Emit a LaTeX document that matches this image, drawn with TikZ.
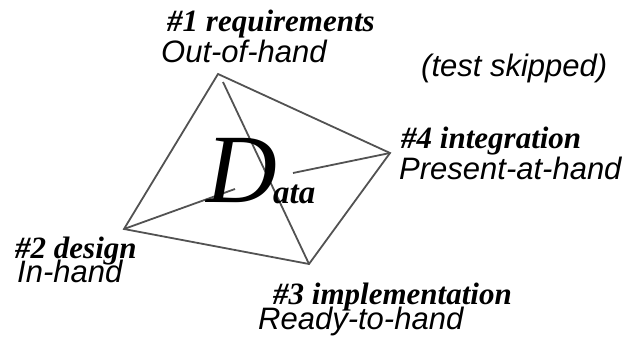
\documentclass[tikz,border=0pt]{standalone}
\usepackage{fontspec}
\setmainfont{Liberation Serif}
\setsansfont{Liberation Sans}
\begin{document}
\begin{tikzpicture}[x=1pt,y=-1pt,
  edge/.style={draw=black!68,line width=1.8pt},
  phase/.style={anchor=base west,inner sep=0pt,font=\fontsize{31}{31}\selectfont\rmfamily\bfseries\itshape},
  mode/.style={anchor=base west,inner sep=0pt,font=\fontsize{31}{31}\selectfont\sffamily\itshape}]
\useasboundingbox (0,0) rectangle (623,339);
\coordinate (T) at (218,74);
\coordinate (Ti) at (223,82);
\coordinate (R) at (390,153);
\coordinate (L) at (124,229);
\coordinate (B) at (309,264);
\coordinate (Li) at (235,189);
\coordinate (Ri) at (293,173);
\draw[edge] (T) -- (R) -- (B) -- (L) -- cycle;
\draw[edge] (Ti) -- (B);
\draw[edge] (L) -- (Li);
\draw[edge] (Ri) -- (R);
\node[anchor=base west,inner sep=0pt,font=\fontsize{98}{98}\selectfont\rmfamily\itshape] (D) at (206,202) {D};
\node[anchor=base west,inner sep=0pt,font=\fontsize{33}{33}\selectfont\rmfamily\bfseries\itshape] (ata) at (273,203) {ata};
\node[phase] (p1) at (167,32) {\#1 requirements};
\node[mode] (m1) at (161,63) {Out-of-hand};
\node[mode] (skip) at (421,77) {(test skipped)};
\node[phase] (p4) at (401,149) {\#4 integration};
\node[mode] (m4) at (399,179) {Present-at-hand};
\node[phase] (p2) at (15,258) {\#2 design};
\node[mode] (m2) at (17,282) {In-hand};
\node[phase] (p3) at (273,304) {\#3 implementation};
\node[mode] (m3) at (258,329) {Ready-to-hand};
\end{tikzpicture}
\end{document}
